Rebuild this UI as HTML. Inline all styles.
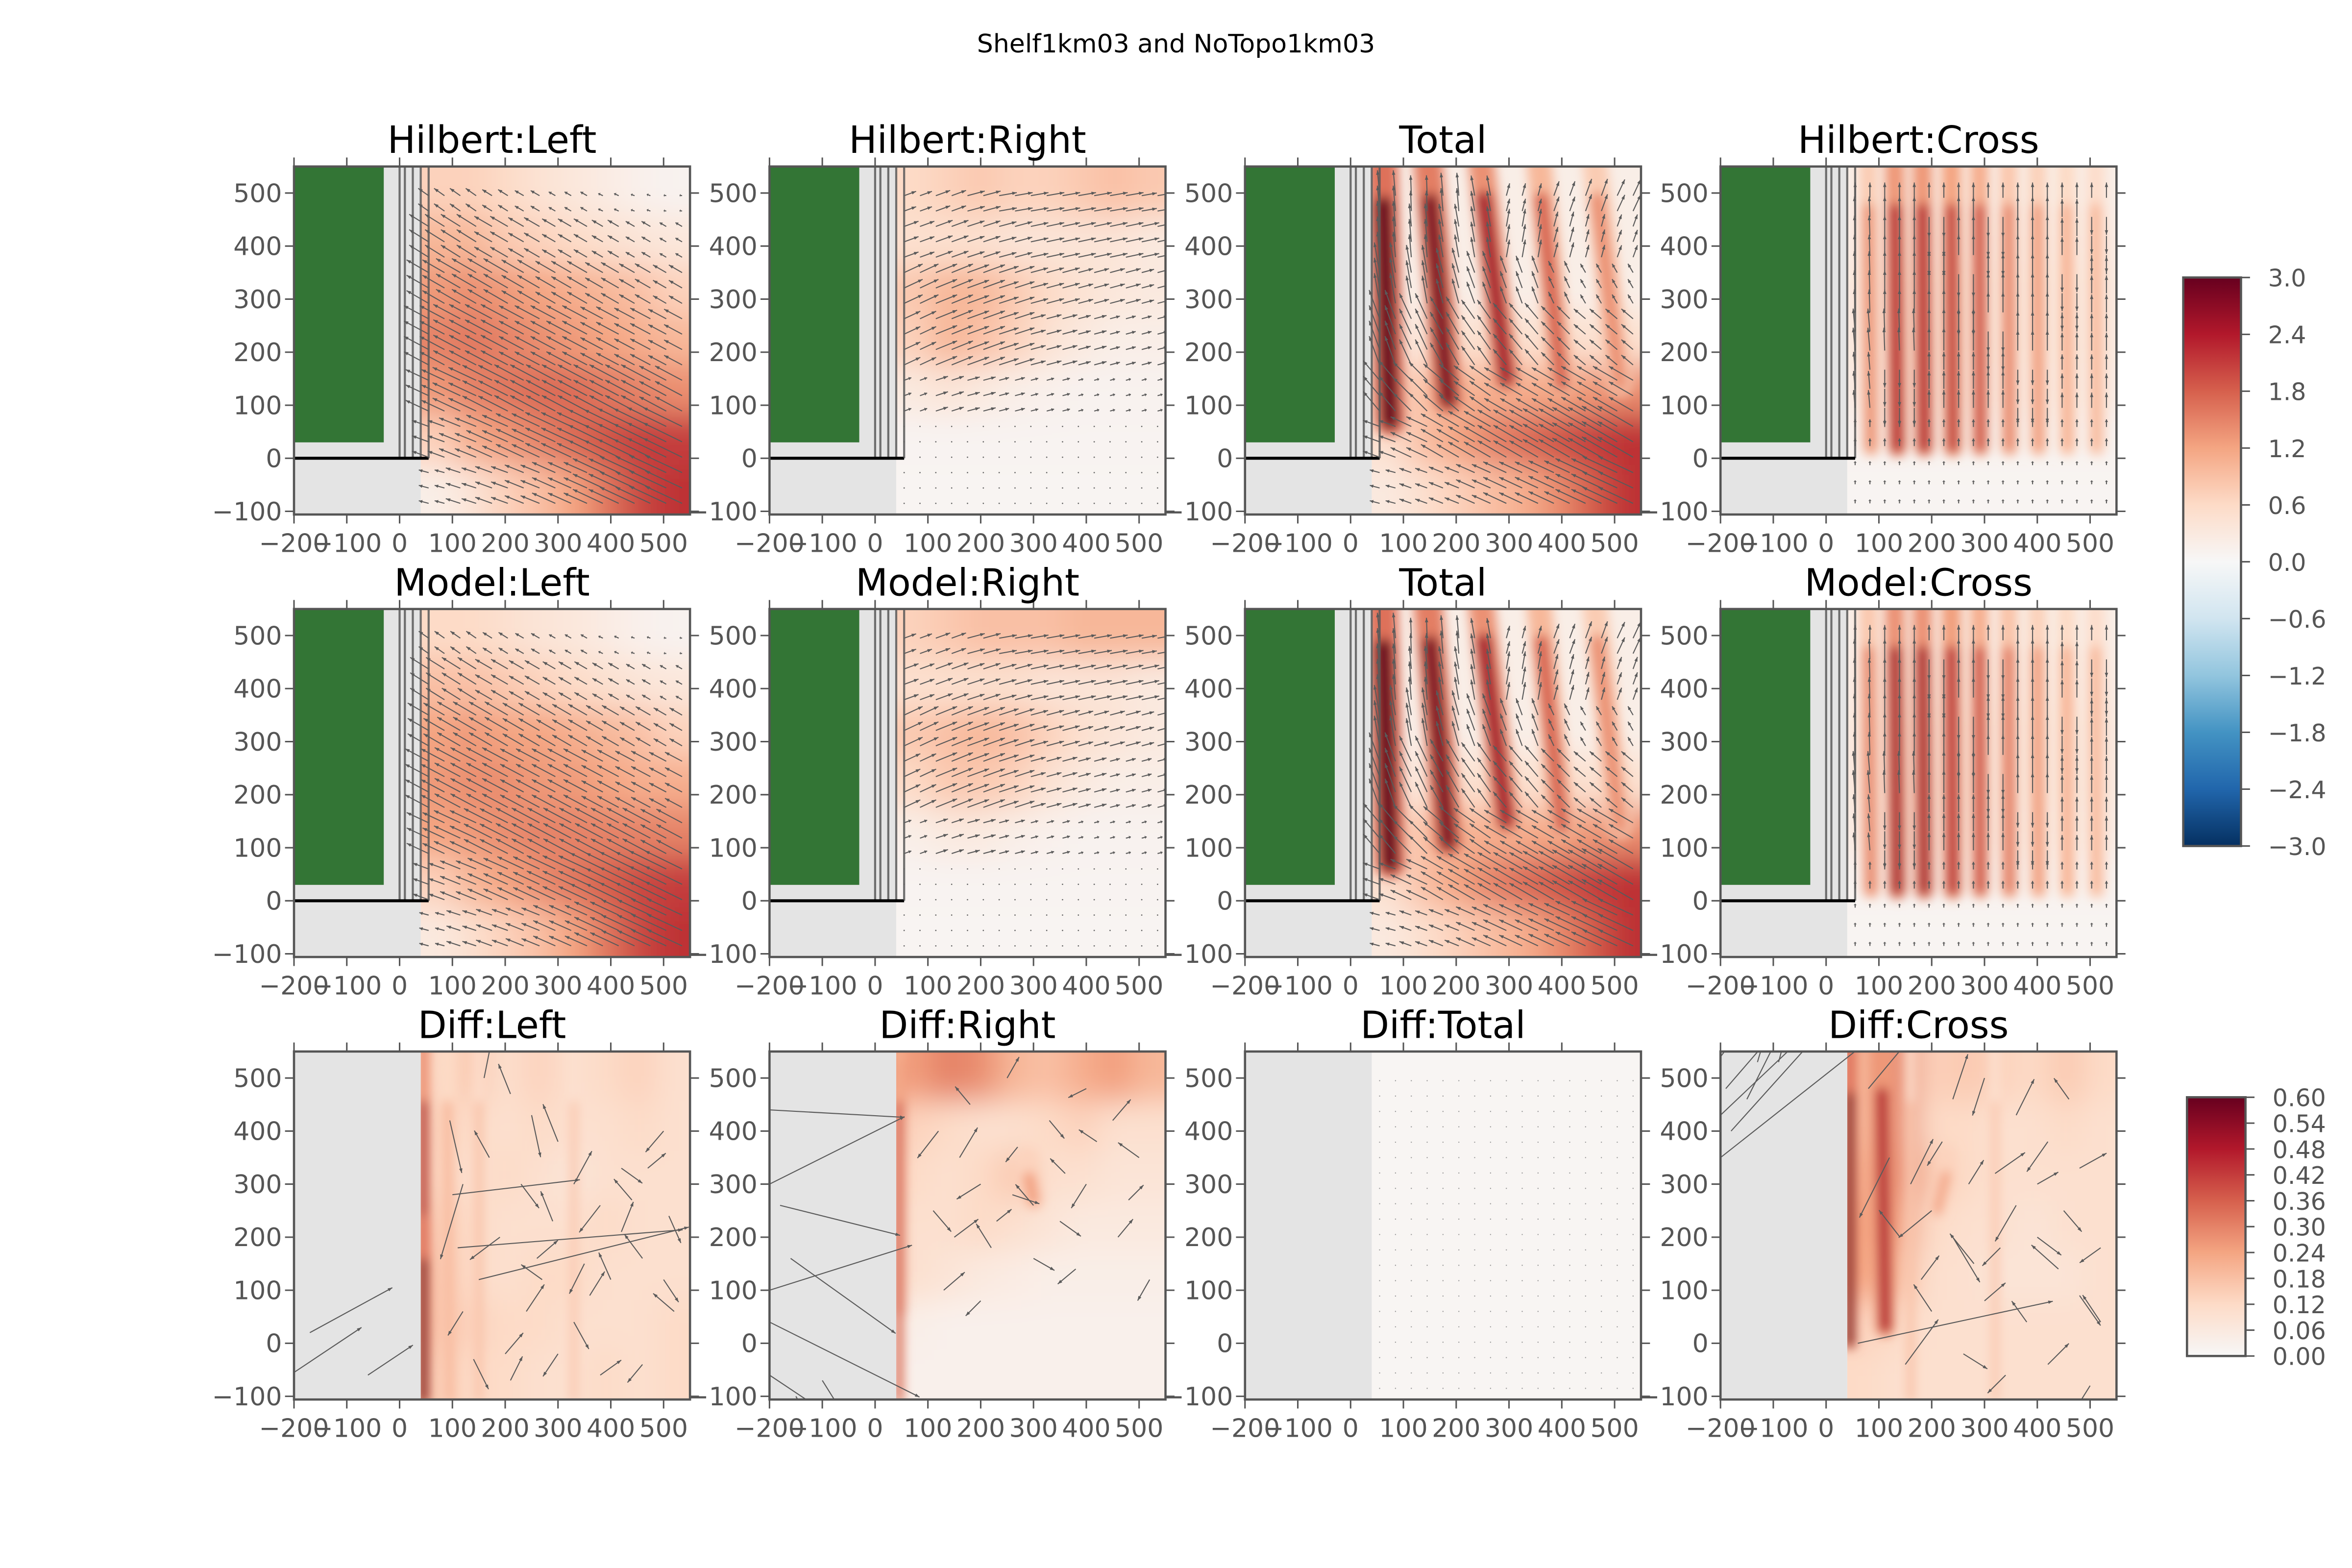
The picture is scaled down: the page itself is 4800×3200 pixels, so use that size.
<!DOCTYPE html>
<html><head><meta charset="utf-8"><style>
html,body{margin:0;padding:0;background:#fff;}
svg{display:block;}
text{font-family:"DejaVu Sans","Liberation Sans",sans-serif;}
</style></head><body>
<svg id="fig" xmlns="http://www.w3.org/2000/svg" width="4800" height="3200" viewBox="0 0 1568 1045.33">
<defs>
<filter id="blurBase" x="-20%" y="-20%" width="140%" height="140%"><feGaussianBlur stdDeviation="10"/></filter>
<filter id="blurRidge" x="-50%" y="-20%" width="200%" height="140%"><feGaussianBlur stdDeviation="3.5"/></filter>
<linearGradient id="cbGrad1" x1="0" y1="0" x2="0" y2="1">
<stop offset="0" stop-color="#67001f"/><stop offset="0.1" stop-color="#b2182b"/><stop offset="0.2" stop-color="#d6604d"/><stop offset="0.3" stop-color="#f4a582"/><stop offset="0.4" stop-color="#fddbc7"/><stop offset="0.5" stop-color="#f7f7f7"/><stop offset="0.6" stop-color="#d1e5f0"/><stop offset="0.7" stop-color="#92c5de"/><stop offset="0.8" stop-color="#4393c3"/><stop offset="0.9" stop-color="#2166ac"/><stop offset="1" stop-color="#053061"/>
</linearGradient>
<linearGradient id="cbGrad2" x1="0" y1="0" x2="0" y2="1">
<stop offset="0" stop-color="#67001f"/><stop offset="0.2" stop-color="#b2182b"/><stop offset="0.4" stop-color="#d6604d"/><stop offset="0.6" stop-color="#f4a582"/><stop offset="0.8" stop-color="#fddbc7"/><stop offset="1" stop-color="#f7f7f7"/>
</linearGradient>
</defs>
<text x="784" y="35" font-size="17" text-anchor="middle" fill="#000">Shelf1km03 and NoTopo1km03</text>
</svg>
<script>
// ---- data arrays (top level) ----
const xTicks = [-200,-100,0,100,200,300,400,500];
const xTickLabels = ["\u2212200","\u2212100","0","100","200","300","400","500"];
const yTicks = [500,400,300,200,100,0,-100];
const yTickLabels = ["500","400","300","200","100","0","\u2212100"];
const cb1Ticks = [3.0,2.4,1.8,1.2,0.6,0.0,-0.6,-1.2,-1.8,-2.4,-3.0];
const cb1Labels = ["3.0","2.4","1.8","1.2","0.6","0.0","\u22120.6","\u22121.2","\u22121.8","\u22122.4","\u22123.0"];
const cb2Ticks = [0.60,0.54,0.48,0.42,0.36,0.30,0.24,0.18,0.12,0.06,0.00];
const cb2Labels = ["0.60","0.54","0.48","0.42","0.36","0.30","0.24","0.18","0.12","0.06","0.00"];

// base heat grids: 7 rows (top y=550 -> bottom y=-106) x 8 cols (x=40 -> 550)
const hilLeftGrid = [
[0.7,0.7,0.6,0.45,0.35,0.25,0.15,0.1],
[1.0,1.0,0.8,0.7,0.6,0.5,0.4,0.35],
[1.3,1.4,1.3,1.2,1.1,1.0,0.9,0.7],
[1.5,1.6,1.5,1.4,1.3,1.2,1.1,1.0],
[1.3,1.5,1.6,1.7,1.7,1.6,1.5,1.4],
[0.7,1.1,1.3,1.5,1.7,1.9,2.1,2.1],
[0.2,0.4,0.7,0.9,1.2,1.6,2.0,2.2]];
const hilRightGrid = [
[0.6,0.7,0.8,0.7,0.7,0.8,0.9,0.8],
[0.5,0.5,0.5,0.4,0.4,0.4,0.4,0.3],
[0.8,1.0,1.0,0.8,0.6,0.45,0.35,0.3],
[0.7,1.0,0.9,0.7,0.45,0.3,0.2,0.2],
[0.3,0.4,0.3,0.2,0.15,0.1,0.1,0.1],
[0.08,0.08,0.08,0.08,0.08,0.08,0.08,0.08],
[0.06,0.06,0.06,0.06,0.06,0.06,0.06,0.06]];
const totalGrid = [
[0.2,0.2,0.2,0.2,0.2,0.2,0.2,0.2],
[0.2,0.2,0.2,0.2,0.2,0.2,0.2,0.2],
[0.2,0.2,0.2,0.2,0.2,0.2,0.2,0.2],
[0.3,0.4,0.5,0.5,0.5,0.5,0.5,0.5],
[0.6,0.9,1.0,1.1,1.1,1.2,1.3,1.4],
[0.5,0.9,1.2,1.5,1.7,1.9,2.1,2.2],
[0.3,0.5,0.7,0.9,1.1,1.4,1.8,2.2]];
const crossGrid = [
[0.2,0.2,0.2,0.2,0.2,0.2,0.2,0.2],
[0.25,0.25,0.25,0.25,0.25,0.25,0.25,0.25],
[0.3,0.3,0.3,0.3,0.3,0.3,0.3,0.3],
[0.3,0.3,0.3,0.3,0.3,0.3,0.3,0.3],
[0.25,0.25,0.25,0.25,0.25,0.25,0.25,0.25],
[0.1,0.1,0.1,0.1,0.1,0.1,0.1,0.1],
[0.06,0.06,0.06,0.06,0.06,0.06,0.06,0.06]];
const modLeftGrid = [
[0.6,0.6,0.5,0.4,0.35,0.25,0.15,0.1],
[0.9,0.9,0.8,0.7,0.6,0.5,0.4,0.35],
[1.2,1.3,1.2,1.2,1.1,1.0,0.9,0.7],
[1.3,1.4,1.4,1.3,1.3,1.2,1.1,1.1],
[1.2,1.3,1.4,1.5,1.5,1.5,1.5,1.5],
[0.7,1.0,1.2,1.4,1.6,1.8,2.0,2.1],
[0.3,0.5,0.7,0.9,1.2,1.6,2.0,2.2]];
const modRightGrid = [
[0.7,0.8,0.9,0.9,0.9,1.0,1.0,1.0],
[0.5,0.5,0.5,0.5,0.4,0.4,0.4,0.3],
[0.8,0.9,1.0,0.9,0.7,0.5,0.4,0.3],
[0.6,0.8,0.8,0.7,0.45,0.3,0.2,0.2],
[0.2,0.3,0.3,0.2,0.15,0.1,0.1,0.1],
[0.08,0.08,0.08,0.08,0.08,0.08,0.08,0.08],
[0.06,0.06,0.06,0.06,0.06,0.06,0.06,0.06]];
const modTotalGrid = totalGrid.map(r=>r.slice());
const modCrossGrid = crossGrid.map(r=>r.slice());
const diffLeftGrid = [
[0.12,0.16,0.1,0.14,0.1,0.12,0.14,0.1],
[0.14,0.12,0.1,0.12,0.1,0.1,0.12,0.1],
[0.14,0.1,0.12,0.1,0.08,0.1,0.1,0.1],
[0.16,0.12,0.1,0.1,0.1,0.12,0.1,0.1],
[0.18,0.12,0.1,0.12,0.12,0.1,0.1,0.1],
[0.18,0.14,0.12,0.12,0.1,0.1,0.1,0.12],
[0.16,0.12,0.12,0.1,0.1,0.12,0.1,0.12]];
const diffRightGrid = [
[0.25,0.3,0.28,0.2,0.18,0.22,0.25,0.2],
[0.14,0.12,0.1,0.1,0.12,0.14,0.1,0.1],
[0.12,0.1,0.12,0.16,0.1,0.1,0.08,0.08],
[0.1,0.1,0.12,0.1,0.08,0.06,0.06,0.06],
[0.1,0.08,0.06,0.05,0.04,0.04,0.04,0.04],
[0.04,0.03,0.03,0.03,0.03,0.03,0.03,0.03],
[0.03,0.03,0.03,0.03,0.03,0.03,0.03,0.03]];
const diffTotalGrid = [
[0.01,0.01,0.01,0.01,0.01,0.01,0.01,0.01],
[0.01,0.01,0.01,0.01,0.01,0.01,0.01,0.01],
[0.01,0.01,0.01,0.01,0.01,0.01,0.01,0.01],
[0.01,0.01,0.01,0.01,0.01,0.01,0.01,0.01],
[0.01,0.01,0.01,0.01,0.01,0.01,0.01,0.01],
[0.01,0.01,0.01,0.01,0.01,0.01,0.01,0.01],
[0.01,0.01,0.01,0.01,0.01,0.01,0.01,0.01]];
const diffCrossGrid = [
[0.2,0.3,0.14,0.16,0.14,0.12,0.16,0.12],
[0.2,0.3,0.12,0.12,0.1,0.1,0.12,0.1],
[0.22,0.3,0.16,0.12,0.1,0.1,0.1,0.1],
[0.24,0.26,0.12,0.1,0.1,0.08,0.1,0.1],
[0.24,0.2,0.1,0.1,0.08,0.08,0.08,0.1],
[0.14,0.12,0.1,0.1,0.1,0.1,0.1,0.1],
[0.12,0.1,0.1,0.1,0.1,0.1,0.1,0.1]];

// ridges: [xTop, yTop, xBottom, yBottom, amplitude, widthDataUnits]
const totalRidges = [[60,550,75,70,3.0,44],[145,550,185,110,2.8,42],[245,550,295,150,2.5,38],[355,550,400,140,1.8,36],[460,550,510,140,1.4,36]];
const modTotalRidges = [[60,550,75,70,3.0,44],[145,550,185,110,2.8,42],[245,550,295,150,2.5,38],[355,550,400,140,1.8,36],[460,550,510,140,1.4,36]];
const crossRidges = [[80,550,85,20,1.4,26],[130,550,135,20,2.4,28],[182,550,186,20,2.4,28],[237,550,240,20,2.2,28],[290,550,292,20,2.0,26],[345,550,347,20,1.5,26],[400,550,402,20,1.3,26],[455,550,457,20,1.1,26],[510,550,512,20,1.0,26]];
const modCrossRidges = [[80,550,85,20,1.5,26],[130,550,135,20,2.5,28],[182,550,186,20,2.5,28],[237,550,240,20,2.3,28],[290,550,292,20,2.0,26],[345,550,347,20,1.6,26],[400,550,402,20,1.3,26],[455,550,457,20,1.1,26],[510,550,512,20,1.0,26]];
const diffLeftRidges = [[45,550,45,-106,0.5,18],[45,200,45,-106,0.6,18],[90,550,95,-106,0.22,18],[150,550,150,-106,0.2,14],[330,550,330,-106,0.18,14]];
const diffRightRidges = [[45,500,45,60,0.6,18],[45,550,45,-106,0.4,14],[290,320,300,270,0.25,30]];
const diffTotalRidges = [];
const diffCrossRidges = [[45,550,45,0,0.6,18],[105,550,112,30,0.48,28],[230,330,210,250,0.25,20],[160,550,160,-106,0.2,14],[320,550,320,-106,0.18,14]];

// quiver field magnitudes and angles (deg, math convention) on same 7x8 grid
const hilLeftMag = [[0.5,0.5,0.45,0.4,0.3,0.2,0.15,0.1],[0.9,0.9,0.8,0.7,0.6,0.5,0.4,0.3],[1.0,1.1,1.1,1.0,0.9,0.8,0.7,0.6],[1.1,1.2,1.2,1.1,1.1,1.0,0.9,0.8],[1.0,1.2,1.3,1.3,1.3,1.3,1.3,1.2],[0.7,0.9,1.1,1.2,1.3,1.5,1.6,1.7],[0.4,0.6,0.7,0.8,1.0,1.3,1.5,1.6]];
const hilLeftAng = [[145,145,148,150,150,155,160,170],[148,148,150,150,150,150,150,150],[150,150,150,150,150,150,150,150],[152,152,152,152,152,152,152,152],[155,155,153,152,152,152,152,152],[160,158,156,155,155,154,154,154],[165,162,160,158,156,155,155,155]];
const hilRightMag = [[0.5,0.6,0.7,0.7,0.7,0.7,0.7,0.6],[0.6,0.7,0.7,0.7,0.7,0.7,0.7,0.7],[0.8,0.9,0.9,0.8,0.7,0.6,0.6,0.5],[0.7,0.9,0.9,0.8,0.6,0.5,0.4,0.4],[0.3,0.5,0.5,0.4,0.3,0.2,0.2,0.2],[0.03,0.03,0.03,0.03,0.03,0.03,0.03,0.03],[0.03,0.03,0.03,0.03,0.03,0.03,0.03,0.03]];
const hilRightAng = [[20,20,15,10,10,10,10,10],[20,20,18,15,12,12,12,12],[25,22,20,18,15,15,15,15],[25,22,20,18,15,15,15,15],[20,18,15,15,15,15,15,15],[0,0,0,0,0,0,0,0],[0,0,0,0,0,0,0,0]];
const totalMag = [[1.0,0.8,0.9,0.8,0.5,0.6,0.7,0.7],[1.0,0.9,0.9,0.8,0.7,0.6,0.5,0.5],[1.2,1.1,1.0,0.9,0.7,0.5,0.4,0.4],[1.2,1.1,1.0,0.9,0.8,0.7,0.6,0.6],[1.0,1.0,1.0,1.0,1.0,1.0,1.1,1.1],[0.7,0.9,1.0,1.2,1.3,1.4,1.5,1.6],[0.4,0.5,0.6,0.8,1.0,1.1,1.3,1.5]];
const totalAng = [[95,92,95,100,75,70,70,65],[95,95,100,100,80,75,75,70],[100,100,105,110,110,115,120,120],[110,115,120,125,130,135,140,140],[130,135,140,145,150,150,150,150],[160,155,150,150,150,150,150,150],[165,160,158,156,155,155,155,155]];
const crossMag = [[0.6,0.6,0.6,0.6,0.6,0.6,0.6,0.6],[0.8,0.8,0.8,0.8,0.8,0.8,0.7,0.7],[0.9,0.9,0.9,0.9,0.8,0.8,0.7,0.7],[0.9,0.9,0.9,0.9,0.8,0.8,0.7,0.7],[0.7,0.7,0.7,0.7,0.7,0.6,0.6,0.6],[0.3,0.3,0.3,0.3,0.3,0.3,0.3,0.3],[0.15,0.15,0.15,0.15,0.15,0.15,0.15,0.15]];
const crossAng = [[90,90,90,90,90,90,90,90],[92,90,270,90,270,90,90,270],[92,90,90,270,90,90,270,90],[95,92,90,90,270,90,90,90],[95,270,90,90,90,270,90,90],[90,90,90,90,90,90,90,90],[90,90,90,90,90,90,90,90]];
const modLeftMag = hilLeftMag.map(r=>r.map(v=>v*0.95));
const modLeftAng = hilLeftAng.map(r=>r.slice());
const modRightMag = hilRightMag.map(r=>r.slice());
const modRightAng = hilRightAng.map(r=>r.slice());

// diff quiver explicit arrows [x, y, u, v] (data coords, u/v in display px)
const diffLeftArrows = [[-170,20,55,-30],[-200,-55,45,-30],[-60,-60,30,-20],[100,280,85,-10],[110,180,150,-12],[150,120,140,-35],[120,300,-15,50],[95,420,8,35],[160,500,5,-25],[210,470,-8,-20],[250,430,6,28],[300,380,-10,-25],[330,300,12,-22],[380,260,-14,18],[420,210,8,-20],[460,160,-12,-16],[500,120,10,15],[520,60,-14,-12],[240,60,12,-18],[300,-20,-10,15],[380,-60,14,-10],[460,-40,-10,12],[190,200,-20,15],[260,160,14,-12],[350,150,-10,20],[420,330,14,10],[500,400,-12,14],[210,-70,8,-16],[140,-30,10,20],[170,350,-10,-18],[230,300,12,16],[290,230,-8,-20],[360,90,10,-16],[440,270,-12,-14],[510,240,8,18],[120,60,-10,16],[200,-20,12,-14],[270,120,-14,-10],[330,40,10,18],[400,120,-8,-18],[470,330,12,-10]];
const diffRightArrows = [[-200,440,90,5],[-200,300,90,-45],[-180,260,80,20],[-160,160,70,50],[-200,100,95,-30],[-200,-60,90,60],[-150,-100,60,110],[-100,-70,50,80],[-200,40,100,50],[120,400,-14,18],[160,350,12,-20],[200,300,-16,10],[260,280,18,6],[300,260,-12,-14],[350,230,14,10],[400,300,-10,16],[450,420,12,-14],[500,350,-14,-10],[150,200,16,-12],[220,180,-10,-16],[300,160,14,8],[380,140,-12,10],[460,200,10,-12],[520,120,-8,14],[130,100,14,-12],[200,80,-10,10],[400,480,-12,6],[250,500,8,-14],[110,250,12,14],[180,450,-10,-12],[330,420,10,12],[420,380,-12,-8],[480,270,10,-10],[270,370,-8,10],[230,230,10,-8],[360,320,-10,-10]];
const diffTotalArrows = [];
const diffCrossArrows = [[-200,540,90,-120],[-190,480,95,-110],[-200,430,95,-90],[-180,400,90,-100],[-200,350,95,-75],[-150,460,70,-140],[-130,530,50,-170],[-90,530,40,-150],[60,0,130,-28],[80,480,25,-30],[120,350,-20,40],[160,300,15,-30],[200,250,-22,18],[240,200,18,30],[280,150,-16,-20],[320,320,20,-14],[360,260,-14,24],[400,200,16,12],[440,140,-18,-16],[480,90,14,20],[520,40,-12,-18],[240,460,10,-30],[300,500,-8,25],[360,430,12,-24],[420,380,-14,20],[480,330,18,-10],[200,60,-12,-18],[260,-20,16,10],[340,-60,-12,12],[420,-40,14,-14],[500,-80,-10,16],[150,-40,22,-30],[140,200,-14,-18],[180,120,12,-16],[220,380,-10,16],[300,80,14,-12],[380,40,-10,-14],[450,250,12,14],[520,180,-14,10],[270,300,10,-16],[330,180,-12,12],[400,300,14,-8],[460,460,-10,-14]];

// ---- helpers ----
const NS = "http://www.w3.org/2000/svg";
const svg = document.getElementById("fig");
const colLeft = [196,513,830,1147], rowTop = [111,406,701];
const PW = 264, PH = 232;
const XMIN=-200, XMAX=550, YMIN=-106, YMAX=550;
function mk(tag, attrs, parent){const e=document.createElementNS(NS,tag);for(const k in attrs)e.setAttribute(k,attrs[k]);(parent||svg).appendChild(e);return e;}
const stops=[[0,[247,247,247]],[0.2,[253,219,199]],[0.4,[244,165,130]],[0.6,[214,96,77]],[0.8,[178,24,43]],[1,[103,0,31]]];
function cmap(t){t=Math.max(0,Math.min(1,t));for(let i=1;i<stops.length;i++){if(t<=stops[i][0]){const a=stops[i-1],b=stops[i];const f=(t-a[0])/(b[0]-a[0]);const c=a[1].map((v,j)=>Math.round(v+(b[1][j]-v)*f));return "rgb("+c.join(",")+")";}}return "rgb(103,0,31)";}

const panels = [
 {r:0,c:0,title:"Hilbert:Left",grid:hilLeftGrid,ridges:[],vmax:3,mag:hilLeftMag,ang:hilLeftAng,topo:true,name:"hilbert-left"},
 {r:0,c:1,title:"Hilbert:Right",grid:hilRightGrid,ridges:[],vmax:3,mag:hilRightMag,ang:hilRightAng,topo:true,name:"hilbert-right"},
 {r:0,c:2,title:"Total",grid:totalGrid,ridges:totalRidges,vmax:3,mag:totalMag,ang:totalAng,topo:true,name:"hilbert-total"},
 {r:0,c:3,title:"Hilbert:Cross",grid:crossGrid,ridges:crossRidges,vmax:3,mag:crossMag,ang:crossAng,topo:true,sparse:true,name:"hilbert-cross"},
 {r:1,c:0,title:"Model:Left",grid:modLeftGrid,ridges:[],vmax:3,mag:modLeftMag,ang:modLeftAng,topo:true,name:"model-left"},
 {r:1,c:1,title:"Model:Right",grid:modRightGrid,ridges:[],vmax:3,mag:modRightMag,ang:modRightAng,topo:true,name:"model-right"},
 {r:1,c:2,title:"Total",grid:modTotalGrid,ridges:modTotalRidges,vmax:3,mag:totalMag,ang:totalAng,topo:true,name:"model-total"},
 {r:1,c:3,title:"Model:Cross",grid:modCrossGrid,ridges:modCrossRidges,vmax:3,mag:crossMag,ang:crossAng,topo:true,sparse:true,name:"model-cross"},
 {r:2,c:0,title:"Diff:Left",grid:diffLeftGrid,ridges:diffLeftRidges,vmax:0.6,arrows:diffLeftArrows,topo:false,name:"diff-left"},
 {r:2,c:1,title:"Diff:Right",grid:diffRightGrid,ridges:diffRightRidges,vmax:0.6,arrows:diffRightArrows,topo:false,name:"diff-right"},
 {r:2,c:2,title:"Diff:Total",grid:diffTotalGrid,ridges:diffTotalRidges,vmax:0.6,arrows:diffTotalArrows,topo:false,dots:true,name:"diff-total"},
 {r:2,c:3,title:"Diff:Cross",grid:diffCrossGrid,ridges:diffCrossRidges,vmax:0.6,arrows:diffCrossArrows,topo:false,name:"diff-cross"}
];

function drawArrow(g,x0,y0,dx,dy){
  const len=Math.hypot(dx,dy);
  if(len<0.8){const d=mk("circle",{cx:x0,cy:y0,r:0.45,fill:"#666"},g);return;}
  const x1=x0+dx,y1=y0+dy;
  const ln=mk("line",{x1:x0,y1:y0,x2:x1,y2:y1,stroke:"#5a5a5a","stroke-width":0.7},g);
  
  
  const ux=dx/len,uy=dy/len,h=Math.min(3,len*0.35),w=1.1;
  const bx=x1-ux*h,by=y1-uy*h;
  const hd=mk("polygon",{points:`${x1},${y1} ${bx-uy*w},${by+ux*w} ${bx+uy*w},${by-ux*w}`,fill:"#5a5a5a"},g);
  
  
}

panels.forEach((p,pi)=>{
  const L=colLeft[p.c], T=rowTop[p.r];
  const X=x=>L+(x-XMIN)/(XMAX-XMIN)*PW;
  const Y=y=>T+(YMAX-y)/(YMAX-YMIN)*PH;
  const g=mk("g",{});
  
  
  const cid="clip"+pi, aid="aclip"+pi;
  const cp=mk("clipPath",{id:cid},g); mk("rect",{x:X(40),y:T,width:X(XMAX)-X(40),height:PH},cp);
  const ap=mk("clipPath",{id:aid},g); mk("rect",{x:L,y:T,width:PW,height:PH},ap);
  const heat=mk("g",{"clip-path":`url(#${cid})`},g);
  
  
  const base=mk("g",{filter:"url(#blurBase)"},heat);
  const nr=p.grid.length, nc=p.grid[0].length;
  const cw=(X(XMAX)-X(40))/nc, ch=PH/nr;
  p.grid.forEach((row,i)=>row.forEach((v,j)=>{
    let x=X(40)+j*cw, y=T+i*ch, w=cw+0.5, h=ch+0.5;
    if(j===0){x-=30;w+=30;} if(j===nc-1){w+=30;}
    if(i===0){y-=30;h+=30;} if(i===nr-1){h+=30;}
    const cell=mk("rect",{x:x,y:y,width:w,height:h,fill:cmap(v/p.vmax)},base);
    
    
  }));
  const rg=mk("g",{filter:"url(#blurRidge)"},heat);
  p.ridges.forEach(rd=>{
    const [xt,yt,xb,yb,amp,wd]=rd;
    const wpx=wd/(XMAX-XMIN)*PW;
    const glow=mk("line",{x1:X(xt),y1:Y(yt)-10,x2:X(xb),y2:Y(yb),stroke:cmap(amp*0.55/p.vmax),"stroke-width":wpx*1.3,"stroke-linecap":"round"},rg);
    
    
    const ym=(yt+yb)/2, xm=(xt+xb)/2;
    const core=mk("path",{d:`M${X(xt+(xm-xt)*0.3)},${Y(yt-(yt-ym)*0.3)} L${X(xb)},${Y(yb)}`,stroke:cmap(amp/p.vmax),"stroke-width":wpx*0.75,"stroke-linecap":"round",fill:"none"},rg);
    
    
  });
  const gm=mk("rect",{x:L,y:T,width:X(40)-L,height:PH,fill:"#e4e4e4"},g);
  
  
  if(p.topo){
    const gr=mk("rect",{x:L,y:Y(YMAX),width:X(-30)-L,height:Y(30)-Y(YMAX),fill:"#337535"},g);
    
    
    [0,10,25,40,55].forEach(xv=>{
      const vl=mk("line",{x1:X(xv),y1:T,x2:X(xv),y2:Y(0),stroke:"#5a5a5a","stroke-width":1.4,opacity:0.85},g);
      
      
    });
    const bl=mk("line",{x1:L,y1:Y(0),x2:X(55),y2:Y(0),stroke:"#000","stroke-width":2},g);
    
    
    const qg=mk("g",{"clip-path":`url(#${aid})`},g);
    
    
    const sx=p.sparse?28:30, sy=p.sparse?36:29;
    for(let yv=-85; yv<=500; yv+=sy){
      for(let xv=55; xv<=545; xv+=sx){
        const j=Math.min(nc-1,Math.floor((xv-40)/(XMAX-40)*nc));
        const i=Math.min(nr-1,Math.floor((YMAX-yv)/(YMAX-YMIN)*nr));
        const m=p.mag[i][j]*17, a=p.ang[i][j]*Math.PI/180;
        drawArrow(qg,X(xv),Y(yv),m*Math.cos(a),-m*Math.sin(a));
      }
    }
  } else {
    const qg=mk("g",{"clip-path":`url(#${aid})`},g);
    
    
    if(p.dots){
      for(let yv=-85; yv<=500; yv+=29) for(let xv=55; xv<=545; xv+=30){
        const d=mk("circle",{cx:X(xv),cy:Y(yv),r:0.4,fill:"#999"},qg);
        
        
      }
    }
    p.arrows.forEach(a=>drawArrow(qg,X(a[0]),Y(a[1]),a[2],a[3]));
  }
  const fr=mk("rect",{x:L,y:T,width:PW,height:PH,fill:"none",stroke:"#555","stroke-width":1.5},g);
  
  
  xTicks.forEach((xv,k)=>{
    const xp=X(xv);
    mk("line",{x1:xp,y1:T+PH,x2:xp,y2:T+PH+6,stroke:"#555","stroke-width":1},g);
    mk("line",{x1:xp,y1:T,x2:xp,y2:T-6,stroke:"#555","stroke-width":1},g);
    const t=mk("text",{x:xp,y:T+PH+25,"font-size":17,"text-anchor":"middle",fill:"#555"},g);
    t.textContent=xTickLabels[k];
    
    
  });
  yTicks.forEach((yv,k)=>{
    const yp=Y(yv);
    mk("line",{x1:L,y1:yp,x2:L-6,y2:yp,stroke:"#555","stroke-width":1},g);
    mk("line",{x1:L+PW,y1:yp,x2:L+PW+6,y2:yp,stroke:"#555","stroke-width":1},g);
    const t1=mk("text",{x:L-8,y:yp+6,"font-size":17,"text-anchor":"end",fill:"#555"},g);
    t1.textContent=yTickLabels[k];
    
    
  });
  const tt=mk("text",{x:L+PW/2,y:T-9,"font-size":25,"text-anchor":"middle",fill:"#000"},g);
  tt.textContent=p.title;
  
  
});

function colorbar(x,y,w,h,grad,ticks,labels,vmin,vmax,name){
  const g=mk("g",{});
  
  
  const r=mk("rect",{x:x,y:y,width:w,height:h,fill:`url(#${grad})`,stroke:"#555","stroke-width":1.5},g);
  
  
  ticks.forEach((v,k)=>{
    const yp=y+(vmax-v)/(vmax-vmin)*h;
    mk("line",{x1:x+w,y1:yp,x2:x+w+6,y2:yp,stroke:"#555","stroke-width":1},g);
    const t=mk("text",{x:x+w+18,y:yp+6,"font-size":16,fill:"#555"},g);
    t.textContent=labels[k];
    
    
  });
}
colorbar(1455.5,185,38.5,379,"cbGrad1",cb1Ticks,cb1Labels,-3,3,"colorbar-main");
colorbar(1458,731.5,39,172.5,"cbGrad2",cb2Ticks,cb2Labels,0,0.6,"colorbar-diff");
</script>
</body></html>
